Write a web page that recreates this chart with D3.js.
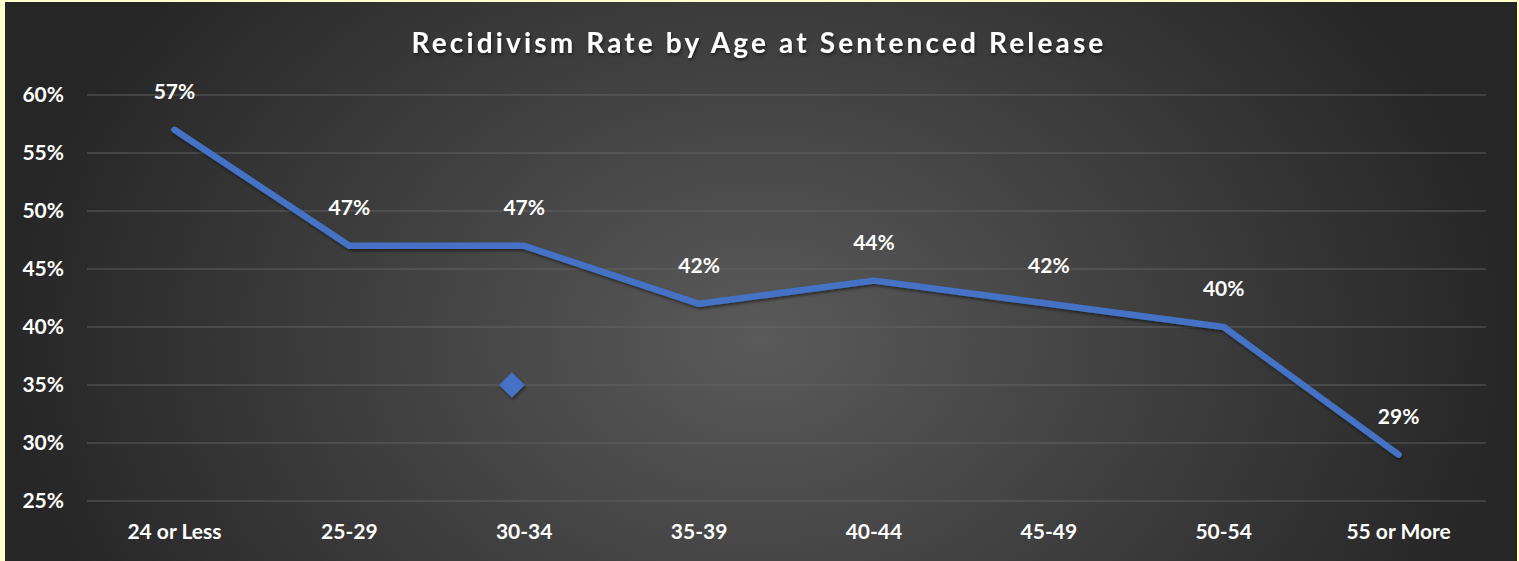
<!DOCTYPE html>
<html>
<head>
<meta charset="utf-8">
<script src="https://cdn.jsdelivr.net/npm/d3@7"></script>
<style>
  html, body { margin: 0; padding: 0; background: #ffffcc; }
  svg { display: block; }
  text { font-family: Lato, "Open Sans", sans-serif; font-weight: bold; fill: #ffffff; }
</style>
</head>
<body>
<div id="chart"></div>
<script>
// Recidivism rate line chart

const ageGroups = ['24 or Less', '25-29', '30-34', '35-39', '40-44', '45-49', '50-54', '55 or More'];
const rates = [57, 47, 47, 42, 44, 42, 40, 29];
const yTicks = [25, 30, 35, 40, 45, 50, 55, 60];
// stray diamond marker sitting near 30-34 at 35%
const markerPos = [1.93];
const markerVal = [35];

const width = 1519, height = 561;

const svg = d3.select('#chart')
  .append('svg')
  .attr('width', width)
  .attr('height', height);

const defs = svg.append('defs');
const bg = defs.append('radialGradient')
  .attr('id', 'bg')
  .attr('gradientUnits', 'userSpaceOnUse')
  .attr('cx', 760).attr('cy', 340).attr('r', 760)
  .attr('gradientTransform', 'translate(760,340) scale(1,0.75) translate(-760,-340)');
bg.append('stop').attr('offset', '0%').attr('stop-color', '#5a5a5a');
bg.append('stop').attr('offset', '100%').attr('stop-color', '#262626');

const shadow = defs.append('filter').attr('id', 'shadow')
  .attr('x', '-20%').attr('y', '-20%').attr('width', '140%').attr('height', '140%');
shadow.append('feDropShadow')
  .attr('dx', 1).attr('dy', 2).attr('stdDeviation', 1.5)
  .attr('flood-color', '#000').attr('flood-opacity', 0.5);

// yellow frame then dark panel
svg.append('rect')
  .attr('x', 5).attr('y', 2)
  .attr('width', width - 7).attr('height', height - 2)
  .attr('fill', 'url(#bg)');

const x = d3.scaleLinear()
  .domain([-0.5, ageGroups.length - 0.5])
  .range([87, 1486]);

const y = d3.scaleLinear()
  .domain([25, 60])
  .range([501, 95]);

// gridlines
svg.append('g')
  .selectAll('line')
  .data(yTicks)
  .enter()
  .append('line')
  .attr('x1', x.range()[0])
  .attr('x2', x.range()[1])
  .attr('y1', d => y(d))
  .attr('y2', d => y(d))
  .attr('stroke', '#6a6a6a')
  .attr('stroke-opacity', 0.55)
  .attr('stroke-width', 1.5);

// y axis labels
svg.append('g')
  .selectAll('text')
  .data(yTicks)
  .enter()
  .append('text')
  .attr('x', 64)
  .attr('y', d => y(d))
  .attr('dy', '0.35em')
  .attr('text-anchor', 'end')
  .style('font-size', '21px')
  .text(d => d + '%');

// x axis labels
svg.append('g')
  .selectAll('text')
  .data(ageGroups)
  .enter()
  .append('text')
  .attr('x', (d, i) => x(i))
  .attr('y', 532)
  .attr('dy', '0.35em')
  .attr('text-anchor', 'middle')
  .style('font-size', '21px')
  .text(d => d);

// title
svg.append('text')
  .attr('x', 759)
  .attr('y', 43)
  .attr('dy', '0.35em')
  .attr('text-anchor', 'middle')
  .attr('filter', 'url(#shadow)')
  .style('font-size', '28px')
  .style('letter-spacing', '3.15px')
  .text('Recidivism Rate by Age at Sentenced Release');

// line
const line = d3.line()
  .x((d, i) => x(i))
  .y(d => y(d));

svg.append('path')
  .datum(rates)
  .attr('d', line)
  .attr('fill', 'none')
  .attr('stroke', '#4472c4')
  .attr('stroke-width', 6.5)
  .attr('stroke-linecap', 'round')
  .attr('stroke-linejoin', 'round')
  .attr('filter', 'url(#shadow)');

// data labels
svg.append('g')
  .selectAll('text')
  .data(rates)
  .enter()
  .append('text')
  .attr('x', (d, i) => x(i))
  .attr('y', d => y(d) - 38)
  .attr('dy', '0.35em')
  .attr('text-anchor', 'middle')
  .style('font-size', '21px')
  .text(d => d + '%');

// diamond marker
svg.append('g')
  .selectAll('path')
  .data(markerVal)
  .enter()
  .append('path')
  .attr('d', d3.symbol().type(d3.symbolDiamond2).size(420))
  .attr('transform', (d, i) => `translate(${x(markerPos[i])},${y(d)})`)
  .attr('fill', '#4472c4')
  .attr('filter', 'url(#shadow)');
</script>
</body>
</html>
